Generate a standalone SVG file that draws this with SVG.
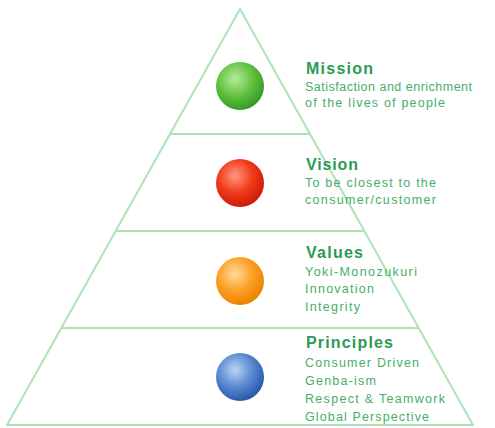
<svg xmlns="http://www.w3.org/2000/svg" width="495" height="428" viewBox="0 0 495 428">
<style>
.ln{stroke:#aee3b6;stroke-width:2;fill:none;stroke-linejoin:round}
.t{font-family:"Liberation Sans",Arial,sans-serif;font-weight:bold;font-size:16px;fill:#2c9a54}
.s{font-family:"Liberation Sans",Arial,sans-serif;font-size:12.5px;fill:#47ad6c}
</style>
<defs>
<radialGradient id="gG" cx="0.4" cy="0.35" r="0.65"><stop offset="0" stop-color="#b6ec98"/><stop offset="0.6" stop-color="#5cbf3c"/><stop offset="1" stop-color="#3a9a28"/></radialGradient>
<radialGradient id="gR" cx="0.4" cy="0.35" r="0.65"><stop offset="0" stop-color="#ff9a80"/><stop offset="0.55" stop-color="#f23a1a"/><stop offset="1" stop-color="#d01a08"/></radialGradient>
<radialGradient id="gO" cx="0.4" cy="0.35" r="0.65"><stop offset="0" stop-color="#ffdc9a"/><stop offset="0.55" stop-color="#fca028"/><stop offset="1" stop-color="#ee8200"/></radialGradient>
<radialGradient id="gB" cx="0.4" cy="0.35" r="0.65"><stop offset="0" stop-color="#b8d4f4"/><stop offset="0.55" stop-color="#5a8ad2"/><stop offset="1" stop-color="#2c5aa8"/></radialGradient>
</defs>
<g id="connectors">
<path class="ln" d="M240 9 L7 425 L473 425 Z"/>
<line class="ln" x1="170" y1="134" x2="310" y2="134"/>
<line class="ln" x1="115.5" y1="231" x2="364.5" y2="231"/>
<line class="ln" x1="61" y1="328" x2="419" y2="328"/>
</g>
<g id="mission">
<circle cx="240" cy="86" r="24" fill="url(#gG)"/>
<text class="t" x="306" y="74" textLength="67" lengthAdjust="spacing">Mission</text>
<text class="s" x="305" y="91" textLength="167" lengthAdjust="spacing">Satisfaction and enrichment</text>
<text class="s" x="305" y="107" textLength="140" lengthAdjust="spacing">of the lives of people</text>
</g>
<g id="vision">
<circle cx="240" cy="183" r="24" fill="url(#gR)"/>
<text class="t" x="306" y="170" textLength="52" lengthAdjust="spacing">Vision</text>
<text class="s" x="305" y="187" textLength="131" lengthAdjust="spacing">To be closest to the</text>
<text class="s" x="305" y="204" textLength="131" lengthAdjust="spacing">consumer/customer</text>
</g>
<g id="values">
<circle cx="240" cy="281" r="24" fill="url(#gO)"/>
<text class="t" x="306" y="258" textLength="57" lengthAdjust="spacing">Values</text>
<text class="s" x="305" y="276" textLength="112" lengthAdjust="spacing">Yoki-Monozukuri</text>
<text class="s" x="305" y="293" textLength="69" lengthAdjust="spacing">Innovation</text>
<text class="s" x="305" y="311" textLength="55" lengthAdjust="spacing">Integrity</text>
</g>
<g id="principles">
<circle cx="240" cy="377" r="24" fill="url(#gB)"/>
<text class="t" x="306" y="348" textLength="87" lengthAdjust="spacing">Principles</text>
<text class="s" x="305" y="367" textLength="114" lengthAdjust="spacing">Consumer Driven</text>
<text class="s" x="305" y="385" textLength="71" lengthAdjust="spacing">Genba-ism</text>
<text class="s" x="305" y="403" textLength="140" lengthAdjust="spacing">Respect &amp; Teamwork</text>
<text class="s" x="305" y="421" textLength="124" lengthAdjust="spacing">Global Perspective</text>
</g>
</svg>
